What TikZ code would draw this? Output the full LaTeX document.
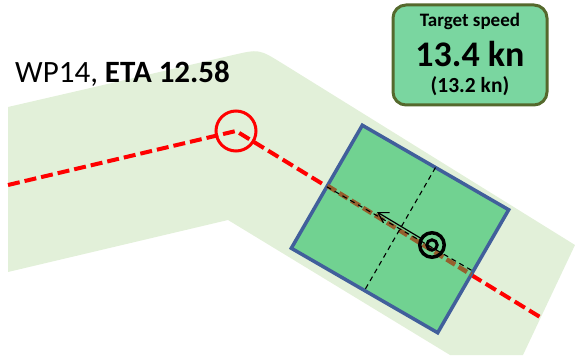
\documentclass[tikz,border=0pt]{standalone}
\usepackage{fontspec}
\setmainfont{Carlito}
\usetikzlibrary{arrows.meta}
\definecolor{bandgreen}{RGB}{226,240,217}
\definecolor{zonegreen}{RGB}{113,210,145}
\definecolor{zoneblue}{RGB}{65,95,155}
\definecolor{boxgreen}{RGB}{122,214,160}
\definecolor{boxolive}{RGB}{85,105,45}
\definecolor{trackbrown}{RGB}{150,95,45}

\begin{document}
\begin{tikzpicture}[x=1pt,y=-1pt,
  route/.style={red,line width=4pt,dash pattern=on 12pt off 5pt},
  axis/.style={black,line width=1.1pt,dash pattern=on 5pt off 4pt}]
\path[use as bounding box] (0,0) rectangle (575,358);
% corridor
\fill[bandgreen] (8,107) -- (232.7,55.1) .. controls (259,49) .. (282,63.2) -- (575,245)
  -- (523,355) -- (450,355) -- (228,220) -- (8,272) -- cycle;
% planned route
\coordinate (start) at (8,185);
\coordinate (wp) at (236,131);
\coordinate (end) at (540,317);
\draw[route] (start) -- (wp) -- (end);
\node[circle,draw=red,line width=3pt,minimum size=40pt,inner sep=0pt] (wpmark) at (wp) {};
\node[anchor=base west,inner sep=0pt,font=\fontsize{31}{37}\selectfont] (wplabel) at (15,83) {WP14, \textbf{ETA 12.58}};
% ship zone
\node[draw=zoneblue,fill=zonegreen,line width=3.5pt,minimum width=169pt,minimum height=142pt,
  inner sep=0pt,outer sep=0pt,rotate=-30] (zone) at (400,229) {};
\coordinate (zonein) at (327.4,185.8);
\coordinate (zoneout) at (471.3,274.6);
\draw[trackbrown,line width=4.5pt,dash pattern=on 10pt off 4pt] (zonein) -- (zoneout);
\draw[axis] (zone.west) -- (zone.east);
\draw[axis] (zone.north) -- (zone.south);
% ship
\node[circle,draw,line width=3.5pt,minimum size=24.5pt,inner sep=0pt,outer sep=0pt] (ship) at (432,245) {};
\node[circle,draw,line width=3pt,minimum size=10.4pt,inner sep=0pt] (shipcore) at (ship) {};
\coordinate (heading) at (377,212);
\draw[line width=1.2pt,-{Straight Barb[length=10pt,width=12pt]}] (ship) -- (heading);
% target speed
\node[draw=boxolive,fill=boxgreen,line width=3pt,rounded corners=13pt,minimum width=154pt,
  minimum height=100pt,inner sep=0pt] (speedbox) at (470,55) {};
\node[anchor=base,inner sep=0pt,font=\bfseries\fontsize{19}{23}\selectfont] (speedtitle) at (470,27) {Target speed};
\node[anchor=base,inner sep=0pt,font=\bfseries\fontsize{36}{42}\selectfont] (speedset) at (470,67) {13.4 kn};
\node[anchor=base,inner sep=0pt,font=\bfseries\fontsize{21.5}{26}\selectfont] (speedreal) at (470,93) {(13.2 kn)};
\end{tikzpicture}
\end{document}
